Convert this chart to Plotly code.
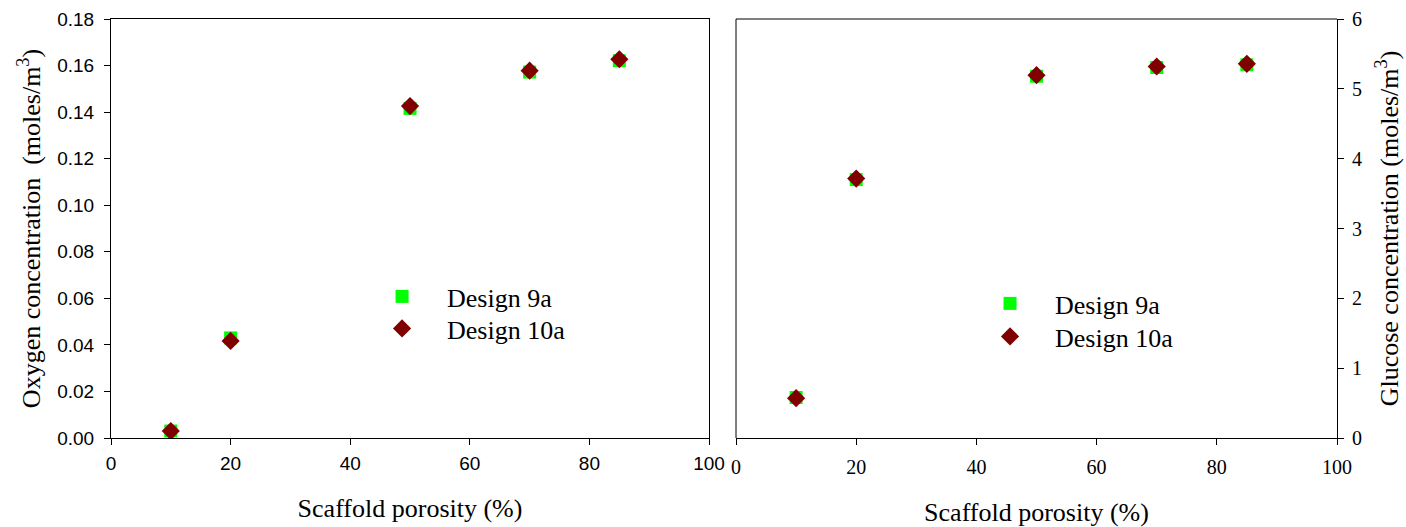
import plotly.graph_objects as go

porosity = [10, 20, 50, 70, 85]
oxygen_9a = [0.0030, 0.0430, 0.1416, 0.1572, 0.1621]
oxygen_10a = [0.0030, 0.0417, 0.1426, 0.1578, 0.1627]
glucose_9a = [0.58, 3.70, 5.18, 5.305, 5.344]
glucose_10a = [0.57, 3.715, 5.196, 5.32, 5.358]

GREEN = "#00FF00"
DARKRED = "#800000"
SERIF = "Liberation Serif, Times New Roman, serif"
SANS = "Liberation Sans, Arial, sans-serif"

fig = go.Figure()

def add_pair(xa, ya, y9, y10, leg9, leg10):
    fig.add_trace(go.Scatter(x=porosity, y=y9, mode="markers", name="Design 9a",
                             marker=dict(symbol="square", size=13, color=GREEN, line=dict(width=0)),
                             xaxis=xa, yaxis=ya, legend=leg9))
    fig.add_trace(go.Scatter(x=porosity, y=y10, mode="markers", name="Design 10a",
                             marker=dict(symbol="diamond", size=14, color=DARKRED, line=dict(width=0)),
                             xaxis=xa, yaxis=ya, legend=leg10))

add_pair("x", "y", oxygen_9a, oxygen_10a, "legend", "legend2")
add_pair("x2", "y2", glucose_9a, glucose_10a, "legend3", "legend4")

axis_common = dict(showline=True, linecolor="black", linewidth=1, ticks="outside",
                   ticklen=6, tickcolor="black", showgrid=False, zeroline=False,
                   automargin=False)

legend_common = dict(font=dict(family=SERIF, size=26, color="black"), bgcolor="rgba(0,0,0,0)",
                     itemwidth=80, xanchor="left", yanchor="top")

TITLE_FONT = dict(family=SERIF, size=26, color="black")

fig.update_layout(
    width=1406, height=527,
    margin=dict(l=111, r=69, t=19, b=89, autoexpand=False),
    plot_bgcolor="white", paper_bgcolor="white",
    showlegend=True,
    xaxis=dict(domain=[0, 0.4878], range=[0, 100], dtick=20, mirror=True,
               tickfont=dict(family=SANS, size=19, color="black"), ticklabelstandoff=2,
               title=dict(text="Scaffold porosity (%)", font=TITLE_FONT, standoff=26),
               **axis_common),
    yaxis=dict(range=[0, 0.18], dtick=0.02, tickformat=".2f", mirror=True,
               tickfont=dict(family=SANS, size=19, color="black"), ticklabelstandoff=6,
               title=dict(text="Oxygen concentration  (moles/m<sup>3</sup>)", font=TITLE_FONT, standoff=9),
               **axis_common),
    xaxis2=dict(domain=[0.5098, 1], range=[0, 100], dtick=20, anchor="y2",
                tickfont=dict(family=SERIF, size=20, color="black"), ticklabelstandoff=5,
                title=dict(text="Scaffold porosity (%)", font=TITLE_FONT, standoff=26),
                **axis_common),
    yaxis2=dict(range=[0, 6], dtick=1, anchor="x2", side="right",
                tickfont=dict(family=SERIF, size=20, color="black"), ticklabelstandoff=4,
                title=dict(text="Glucose concentration (moles/m<sup>3</sup>)", font=TITLE_FONT, standoff=18),
                **axis_common),
    legend=dict(x=0.2007, y=0.3938, **legend_common),
    legend2=dict(x=0.2007, y=0.3174, **legend_common),
    legend3=dict(x=0.6966, y=0.3771, **legend_common),
    legend4=dict(x=0.6966, y=0.2983, **legend_common),
)

fig.update_layout(shapes=[
    dict(type="line", xref="x2 domain", yref="y2 domain", x0=0, x1=0, y0=0, y1=1, line=dict(color="black", width=1)),
    dict(type="line", xref="x2 domain", yref="y2 domain", x0=0, x1=1, y0=1, y1=1, line=dict(color="black", width=1)),
])

fig.write_html("out.html")
